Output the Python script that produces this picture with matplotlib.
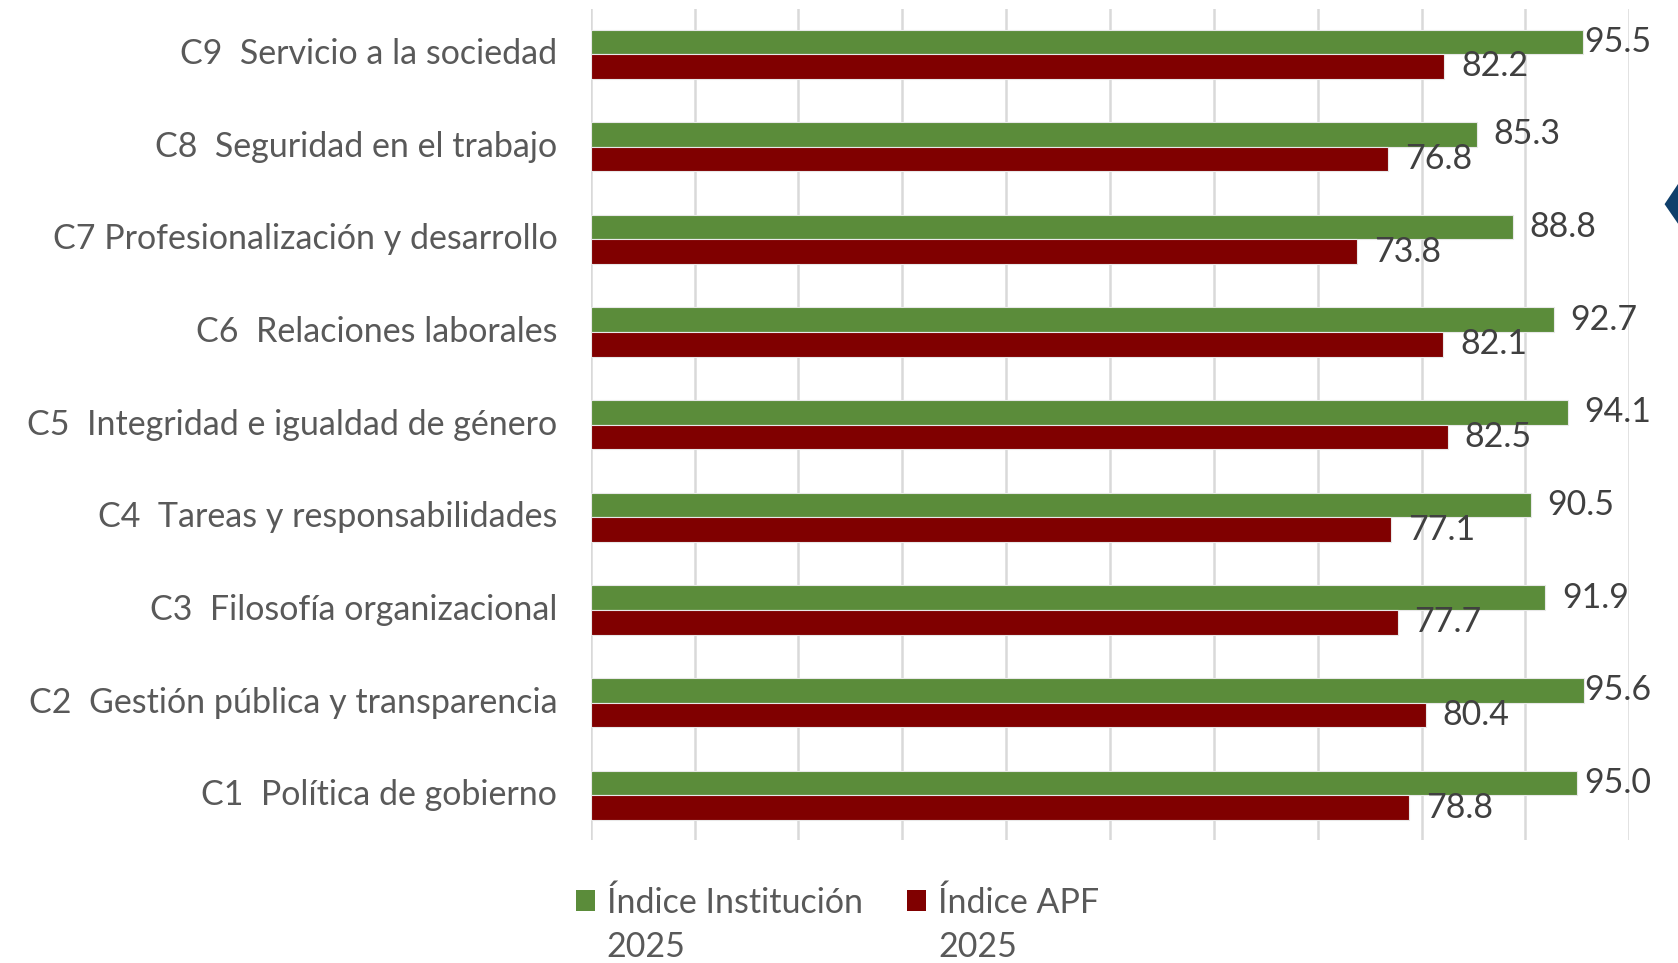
import matplotlib.pyplot as plt
import numpy as np
from matplotlib.patches import Polygon

plt.rcParams["font.family"] = ["Lato", "DejaVu Sans"]

categories = [
    "C1  Política de gobierno",
    "C2  Gestión pública y transparencia",
    "C3  Filosofía organizacional",
    "C4  Tareas y responsabilidades",
    "C5  Integridad e igualdad de género",
    "C6  Relaciones laborales",
    "C7 Profesionalización y desarrollo",
    "C8  Seguridad en el trabajo",
    "C9  Servicio a la sociedad",
]
indice_institucion = [95.0, 95.6, 91.9, 90.5, 94.1, 92.7, 88.8, 85.3, 95.5]
indice_apf = [78.8, 80.4, 77.7, 77.1, 82.5, 82.1, 73.8, 76.8, 82.2]
series_names = ["Índice Institución", "Índice APF"]
series_year = "2025"

GREEN = "#5B8C3A"
RED = "#800000"
TEXT = "#595959"
FS = 24.5


def main():
    fig = plt.figure(figsize=(16.78, 9.63), dpi=100)
    ax = fig.add_axes([0.352, 0.128, 0.619, 0.863])

    y = np.arange(len(categories))
    h = 0.265
    b1 = ax.barh(y + h / 2, indice_institucion, height=h, color=GREEN,
                 edgecolor="#e8e8e8", linewidth=0.8, label=series_names[0], zorder=3)
    b2 = ax.barh(y - h / 2, indice_apf, height=h, color=RED,
                 edgecolor="#e8e8e8", linewidth=0.8, label=series_names[1], zorder=3)

    # labels sit right of the bar but are pulled in near the plot edge
    for bars, vals in ((b1, indice_institucion), (b2, indice_apf)):
        for bar, v in zip(bars, vals):
            yc = bar.get_y() + bar.get_height() / 2
            ax.text(min(v + 1.6, 95.7), yc, f"{v:.1f}", va="center", ha="left",
                    fontsize=FS, color="#404040", zorder=4)

    ax.set_xlim(0, 100)
    ax.set_ylim(-0.48, 8.49)
    ax.set_xticks(np.arange(0, 101, 10))
    ax.set_xticklabels([])
    ax.set_yticks(y)
    ax.set_yticklabels(categories, fontsize=FS, color=TEXT, va="center")
    ax.tick_params(axis="both", length=0, pad=24)
    ax.grid(axis="x", color="#d9d9d9", linewidth=1.8, zorder=0)
    for s in ax.spines.values():
        s.set_visible(False)

    leg = fig.legend(handles=[b1, b2], loc="center left", bbox_to_anchor=(0.343, 0.063),
                     ncol=2, frameon=False, fontsize=FS, handlelength=0.57,
                     handleheight=0.57, handletextpad=0.35, columnspacing=1.3,
                     labelcolor=TEXT, borderpad=0, borderaxespad=0)
    for p in leg.get_patches():
        p.set_edgecolor("none")

    # second line of each legend entry, under its first line
    fig.canvas.draw()
    W, H = fig.bbox.width, fig.bbox.height
    for t in leg.get_texts():
        bb = t.get_window_extent()
        fig.text(bb.x0 / W, (bb.y0 + bb.y1) / 2 / H - 45 / H, series_year,
                 fontsize=FS, color=TEXT, ha="left", va="center")

    # decorative shape cut by the right edge
    fig.patches.append(Polygon([(0.992, 0.788), (1.005, 0.822), (1.005, 0.755)],
                               closed=True, transform=fig.transFigure,
                               facecolor="#0F3F6B", edgecolor="none"))

    fig.savefig("out.png", dpi=100)
    plt.close(fig)


if __name__ == "__main__":
    main()
